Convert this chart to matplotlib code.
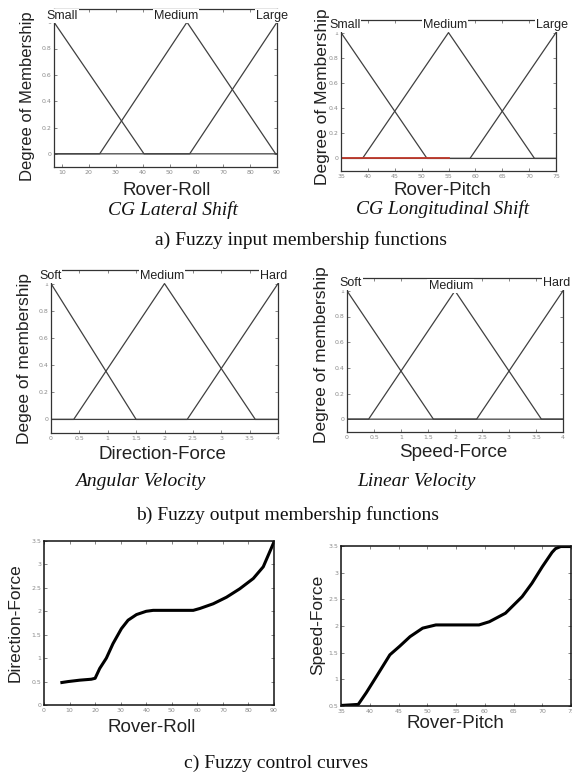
import numpy as np
import matplotlib
matplotlib.use("Agg")
import matplotlib.pyplot as plt

# membership functions (triangles: foot, peak, foot)
roll_range = [7, 90]
roll_mf_names = ["Small", "Medium", "Large"]
roll_mfs = [[7, 7, 40.5], [24, 56.5, 89.5], [57.5, 90, 90]]

pitch_range = [35, 75]
pitch_mf_names = ["Small", "Medium", "Large"]
pitch_mfs = [[35, 35, 51], [39, 55, 71], [59, 75, 75]]
pitch_red = [35, 55]

force_range = [0, 4]
force_mf_names = ["Soft", "Medium", "Hard"]
dir_mfs = [[0, 0, 1.5], [0.4, 2, 3.6], [2.4, 4, 4]]
speed_mfs = [[0, 0, 1.6], [0.4, 2, 3.6], [2.4, 4, 4]]

# control curves
roll_x = [7, 9.4, 14, 18.5, 20, 21.8, 24.4, 27, 30.3, 32.9, 36.2, 40, 42.7, 50, 58.4,
          61, 66.2, 71.4, 76.6, 81.9, 85.8, 90]
roll_y = [0.48, 0.5, 0.53, 0.55, 0.57, 0.78, 1.0, 1.31, 1.63, 1.81, 1.93, 2.0, 2.02, 2.02, 2.02,
          2.06, 2.16, 2.3, 2.48, 2.7, 2.95, 3.48]
pitch_x = [35, 38, 39.4, 41.2, 43.5, 45.2, 47, 49.2, 51.5, 55, 57.3, 59, 60.8, 63.6, 66.5,
           68.2, 70, 71.7, 72.3, 73.2, 75]
pitch_y = [0.51, 0.53, 0.75, 1.06, 1.46, 1.62, 1.8, 1.96, 2.02, 2.02, 2.02, 2.02, 2.08, 2.24, 2.55,
           2.8, 3.11, 3.38, 3.45, 3.49, 3.49]

W, H = 572, 777
fig = plt.figure(figsize=(W / 100, H / 100), dpi=100)
fig.patch.set_facecolor("white")

sans = "Liberation Sans"
serif = "Liberation Serif"


def ax_at(l, t, r, b):
    return fig.add_axes([l / W, 1 - b / H, (r - l) / W, (b - t) / H])


def style(ax, lw=0.9, col="#333333"):
    for s in ax.spines.values():
        s.set_linewidth(lw)
        s.set_color(col)
    ax.tick_params(direction="in", length=2, width=0.5, top=True, right=True,
                   labelsize=4.5, colors="#555555", pad=2)
    ax.tick_params(labelcolor="#8a8a8a")


def labels(ax, xlabel, ylabel, xpos, ypos, ysize=12.5):
    ax.set_xlabel(xlabel, fontsize=13.5, family=sans, color="#222222")
    ax.set_ylabel(ylabel, fontsize=ysize, family=sans, color="#222222")
    ax.xaxis.set_label_coords(*xpos)
    ax.yaxis.set_label_coords(*ypos)
    ax.xaxis.label.set_va("center")
    ax.yaxis.label.set_va("center")


def mf_panel(box, rng, mfs, names, xticks, label_pos):
    ax = ax_at(*box)
    for a, b, c in mfs:
        pts_x = [rng[0], a, b, c, rng[1]]
        pts_y = [0, 0, 1, 0, 0]
        if a == rng[0] and b == rng[0]:
            pts_x, pts_y = [a, c, rng[1]], [1, 0, 0]
        if b == rng[1] and c == rng[1]:
            pts_x, pts_y = [rng[0], a, b], [0, 0, 1]
        ax.plot(pts_x, pts_y, color="#404040", lw=0.9)
    ax.set_xlim(rng)
    ax.set_ylim(-0.1, 1.1)
    ax.set_xticks(xticks)
    ax.set_xticklabels([("%g" % t) for t in xticks])
    ax.set_yticks([0, 0.2, 0.4, 0.6, 0.8, 1])
    ax.set_yticklabels(["0", "0.2", "0.4", "0.6", "0.8", "1"])
    style(ax)
    for name, (px, py, ha) in zip(names, label_pos):
        ax.text(px, py, name, transform=ax.transAxes, ha=ha, va="center",
                fontsize=9, family=sans, color="#222222", clip_on=False,
                bbox=dict(facecolor="white", edgecolor="none", pad=0.8))
    return ax


ax1 = mf_panel((54, 9, 277, 167), roll_range, roll_mfs, roll_mf_names,
               [10, 20, 30, 40, 50, 60, 70, 80, 90],
               [(-0.035, 0.955, "left"), (0.547, 0.955, "center"), (1.05, 0.955, "right")])
labels(ax1, "Rover-Roll", "Degree of Membership", (0.507, -0.146), (-0.118, 0.45), ysize=12)

ax2 = mf_panel((341, 20, 556, 171), pitch_range, pitch_mfs, pitch_mf_names,
               [35, 40, 45, 50, 55, 60, 65, 70, 75],
               [(-0.056, 0.965, "left"), (0.484, 0.965, "center"), (1.056, 0.965, "right")])
ax2.plot(pitch_red, [0, 0], color="#c0392b", lw=1.3)
labels(ax2, "Rover-Pitch", "Degree of Membership", (0.474, -0.126), (-0.088, 0.49))

ax3 = mf_panel((51, 270, 278, 433), force_range, dir_mfs, force_mf_names,
               [0, 0.5, 1, 1.5, 2, 2.5, 3, 3.5, 4],
               [(-0.053, 0.963, "left"), (0.489, 0.963, "center"), (0.92, 0.963, "left")])
labels(ax3, "Direction-Force", "Degee of membership", (0.493, -0.129), (-0.115, 0.454))

ax4 = mf_panel((347, 278, 563, 432), force_range, speed_mfs, force_mf_names,
               [0, 0.5, 1, 1.5, 2, 2.5, 3, 3.5, 4],
               [(-0.037, 0.968, "left"), (0.48, 0.950, "center"), (0.907, 0.968, "left")])
labels(ax4, "Speed-Force", "Degree of membership", (0.49, -0.136), (-0.116, 0.5))

ax5 = ax_at(44, 541, 274, 705)
ax5.plot(roll_x, roll_y, color="black", lw=2.2)
ax5.set_xlim(0, 90)
ax5.set_ylim(0, 3.5)
ax5.set_xticks(range(0, 91, 10))
ax5.set_yticks([0, 0.5, 1, 1.5, 2, 2.5, 3, 3.5])
ax5.set_yticklabels(["0", "0.5", "1", "1.5", "2", "2.5", "3", "3.5"])
style(ax5, lw=1.1, col="#111111")
labels(ax5, "Rover-Roll", "Direction-Force", (0.47, -0.14), (-0.126, 0.5))

ax6 = ax_at(341, 546, 571, 706)
ax6.plot(pitch_x, pitch_y, color="black", lw=2.2)
ax6.set_xlim(35, 75)
ax6.set_ylim(0.5, 3.5)
ax6.set_xticks(range(35, 76, 5))
ax6.set_yticks([0.5, 1, 1.5, 2, 2.5, 3, 3.5])
ax6.set_yticklabels(["0.5", "1", "1.5", "2", "2.5", "3", "3.5"])
style(ax6, lw=1.1, col="#111111")
labels(ax6, "Rover-Pitch", "Speed-Force", (0.496, -0.11), (-0.1, 0.51))

# captions
cap = dict(fontsize=14, family=serif, color="#111111", ha="center", va="center")
fig.text(173 / W, 1 - 210 / H, "CG Lateral Shift", style="italic", **cap)
fig.text(443 / W, 1 - 209 / H, "CG Longitudinal Shift", style="italic", **cap)
fig.text(301 / W, 1 - 240 / H, "a) Fuzzy input membership functions", **cap)
fig.text(140 / W, 1 - 482 / H, "Angular Velocity", style="italic", **cap)
fig.text(416 / W, 1 - 482 / H, "Linear Velocity", style="italic", **cap)
fig.text(288 / W, 1 - 515 / H, "b) Fuzzy output membership functions", **cap)
fig.text(276 / W, 1 - 763 / H, "c) Fuzzy control curves", **cap)

fig.savefig("out.png", dpi=100, facecolor="white")
